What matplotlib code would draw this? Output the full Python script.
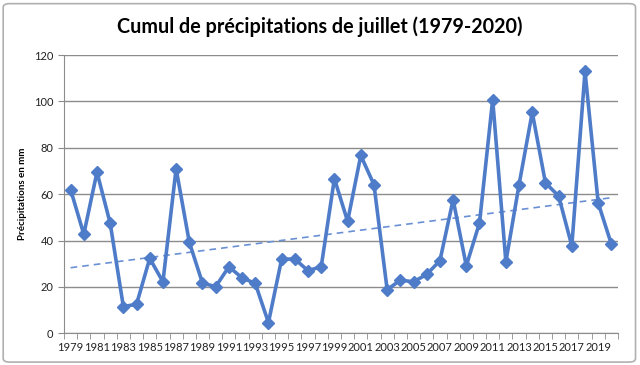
import numpy as np
import matplotlib.pyplot as plt
from matplotlib.patches import FancyBboxPatch

years = list(range(1979, 2021))
precip = [62, 42.7, 69.5, 47.5, 11.5, 12.5, 32.3, 22.2, 71, 39.3,
          21.6, 20.1, 28.7, 23.9, 21.5, 4.6, 32, 32, 27, 28.7,
          66.7, 48.3, 76.7, 64.1, 18.8, 22.9, 22.2, 25.4, 31.3, 57.6,
          29.1, 47.6, 100.8, 30.8, 64.1, 95.3, 64.9, 59.2, 37.7, 113,
          56.2, 38.4]
label_years = list(range(1979, 2020, 2))

plt.rcParams['font.family'] = ['Lato', 'DejaVu Sans']

fig = plt.figure(figsize=(6.4, 3.65), dpi=100)
# outer chart frame
frame = FancyBboxPatch((0.005, 0.008), 0.988, 0.982, boxstyle='round,pad=0,rounding_size=0.01',
                       transform=fig.transFigure, fill=False, edgecolor='#b0b0b0', lw=1.2)
fig.patches.append(frame)

ax = fig.add_axes([0.1, 0.087, 0.8656, 0.762])

x = np.array(years)
y = np.array(precip)
ax.plot(x, y, color='#4f7cc9', lw=2.6, marker='D', ms=6, zorder=3)

# linear trend
coef = np.polyfit(x, y, 1)
ax.plot(x, np.polyval(coef, x), color='#6a90d4', lw=1.2, ls=(0, (4, 3)), zorder=2)

ax.set_xlim(1978.5, 2020.5)
ax.set_ylim(0, 120)
ax.set_yticks(range(0, 121, 20))
ax.yaxis.grid(True, color='#8c8c8c', lw=1)
ax.set_axisbelow(True)

ax.set_xticks(label_years)
ax.set_xticklabels([str(v) for v in label_years])
ax.set_xticks(np.arange(1978.5, 2021, 1), minor=True)
ax.tick_params(axis='x', which='major', length=0, labelsize=8, pad=6, colors='#222222')
ax.tick_params(axis='x', which='minor', length=4, color='#8c8c8c', direction='out')
ax.tick_params(axis='y', length=4, color='#8c8c8c', labelsize=8, colors='#222222')
ax.tick_params(axis='y', which='both', color='#8c8c8c')

for s in ['top', 'right']:
    ax.spines[s].set_visible(False)
for s in ['left', 'bottom']:
    ax.spines[s].set_color('#8c8c8c')

ax.set_ylabel('Précipitations en mm', fontsize=7, fontweight='bold', labelpad=5)
fig.text(0.5, 0.926, 'Cumul de précipitations de juillet (1979-2020)',
         ha='center', va='center', fontsize=14.2, fontweight='bold')

fig.savefig('out.png', dpi=100)
